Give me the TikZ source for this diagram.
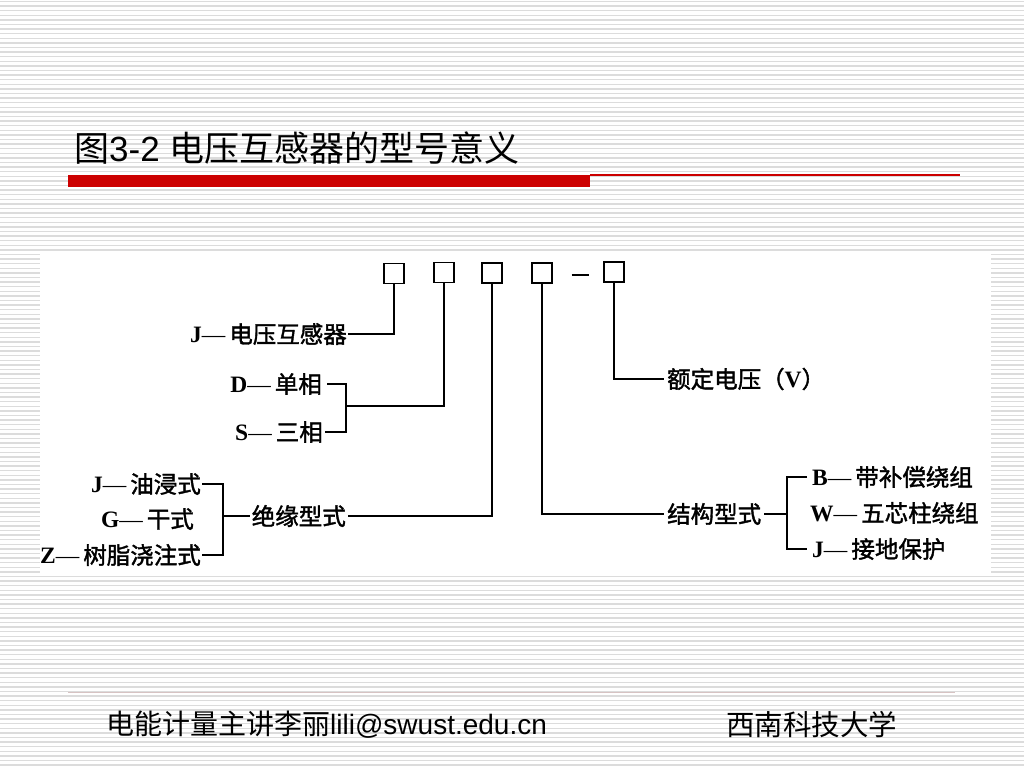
\documentclass[tikz,border=0pt]{standalone}
\usepackage{fontspec}
\setmainfont{Liberation Serif}
\newfontfamily\cjk{Noto Sans CJK SC}
\newfontfamily\cjkb{Noto Sans CJK SC}[FakeBold=1.6]
\newfontfamily\sansf{Liberation Sans}
\definecolor{stripe}{RGB}{220,220,220}
\definecolor{redbar}{RGB}{204,0,0}
\definecolor{footline}{RGB}{215,195,195}
\newcommand\lbl[2]{{\bfseries #1}{\rmfamily —}\hspace{4pt}{\cjkb #2}}
\tikzset{
  box/.style={draw, line width=1.3pt, minimum width=20pt, minimum height=20pt, inner sep=0pt},
  conn/.style={line width=1.3pt},
  lab/.style={inner xsep=1pt, inner ysep=0pt, font=\fontsize{23.5}{27}\selectfont},
}
\begin{document}
\begin{tikzpicture}[x=1pt,y=-1pt]
\useasboundingbox (0,0) rectangle (1024,768);
\fill[white] (0,0) rectangle (1024,768);
% stripes
\foreach \yy in {1.5,6.1,...,768} \draw[stripe, line width=1.4pt] (0,\yy) -- (1024,\yy);
% diagram area
\fill[white] (40,253) rectangle (991,575);
% title
\node[anchor=west, inner sep=0pt, font=\fontsize{35}{40}\selectfont] (title) at (74,148) {\cjk 图\sansf 3-2 \cjk 电压互感器的型号意义};
\fill[redbar] (68,175) rectangle (590,187);
\fill[redbar] (590,174.2) rectangle (960,176.2);
% footer
\draw[footline, line width=1pt] (68,692) -- (955,692);
\node[anchor=west, inner sep=0pt, font=\fontsize{28}{32}\selectfont] (foot1) at (106,725) {\cjk 电能计量主讲李丽\sansf lili@swust.edu.cn};
\node[anchor=west, inner sep=0pt, font=\fontsize{28.5}{32}\selectfont] (foot2) at (726,725) {\cjk 西南科技大学};
% boxes
\node[box] (b1) at (394,273.5) {};
\node[box] (b2) at (444,272.5) {};
\node[box] (b3) at (492,273) {};
\node[box] (b4) at (542,273) {};
\node[inner sep=0pt] (dash) at (580,275) {\rule{17pt}{2.2pt}};
\node[box] (b5) at (614,272) {};
% labels left
\node[lab, anchor=east] (lJ) at (348,334) {\lbl{J}{电压互感器}};
\node[lab, anchor=east, inner xsep=5pt] (lD) at (327,384) {\lbl{D}{单相}};
\node[lab, anchor=east, inner xsep=2pt] (lS) at (325,432) {\lbl{S}{三相}};
\node[lab, anchor=east] (lJ1) at (202,484) {\lbl{J}{油浸式}};
\node[lab, anchor=east] (lG) at (195,519) {\lbl{G}{干式}};
\node[lab, anchor=east] (lZ) at (202,555) {\lbl{Z}{树脂浇注式}};
\node[lab, anchor=east, inner xsep=2pt] (lIns) at (348,516) {\cjkb 绝缘型式};
% labels right
\node[lab, anchor=west, inner xsep=3pt] (lV) at (664,379) {\cjkb 额定电压（{\rmfamily\bfseries V}）};
\node[lab, anchor=west, inner xsep=3pt] (lStr) at (664,514) {\cjkb 结构型式};
\node[lab, anchor=west, inner xsep=5pt] (lB) at (807,477) {\lbl{B}{带补偿绕组}};
\node[lab, anchor=west] (lW) at (809,513) {\lbl{W}{五芯柱绕组}};
\node[lab, anchor=west, inner xsep=5pt] (lJ2) at (807,549) {\lbl{J}{接地保护}};
% connectors
\coordinate (k2) at (346,406);
\coordinate (k3) at (223,516);
\coordinate (k4) at (787,514);
\draw[conn] (b1.south) |- (lJ.east);
\draw[conn] (b2.south) |- (k2);
\draw[conn] (lD.east) -| (k2) |- (lS.east);
\draw[conn] (b3.south) |- (lIns.east);
\draw[conn] (lJ1.east) -| (k3) |- (lZ.east);
\draw[conn] (k3) -- (lIns.west);
\draw[conn] (b4.south) |- (lStr.west);
\draw[conn] (lStr.east) -- (k4);
\draw[conn] (lB.west) -| (k4) |- (lJ2.west);
\draw[conn] (b5.south) |- (lV.west);
\end{tikzpicture}
\end{document}
